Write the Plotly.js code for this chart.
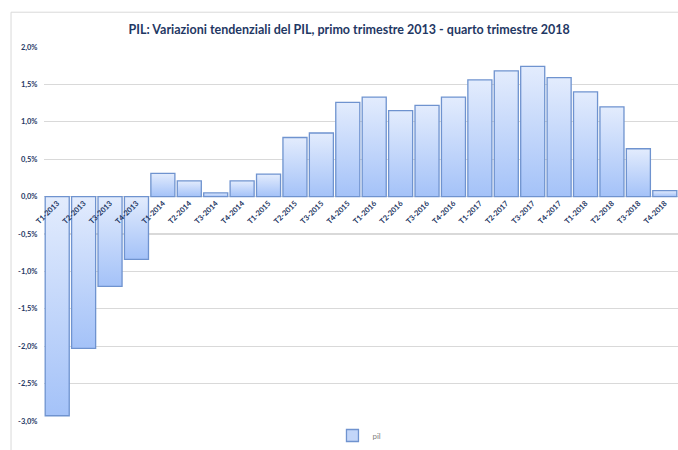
<!DOCTYPE html>
<html>
<head>
<meta charset="utf-8">
<script src="https://cdn.plot.ly/plotly-3.0.1.min.js"></script>
<style>html,body{margin:0;padding:0;background:#fff;}#chart{width:678px;height:450px;}</style>
</head>
<body>
<div id="chart"></div>
<script>
const categories = ["T1-2013","T2-2013","T3-2013","T4-2013","T1-2014","T2-2014","T3-2014","T4-2014",
  "T1-2015","T2-2015","T3-2015","T4-2015","T1-2016","T2-2016","T3-2016","T4-2016",
  "T1-2017","T2-2017","T3-2017","T4-2017","T1-2018","T2-2018","T3-2018","T4-2018"];
const pil = [-2.93,-2.03,-1.20,-0.84,0.31,0.21,0.05,0.21,
  0.30,0.79,0.85,1.26,1.33,1.15,1.22,1.33,
  1.56,1.68,1.74,1.59,1.40,1.20,0.64,0.08];
const yTicks = [-3,-2.5,-2,-1.5,-1,-0.5,0,0.5,1,1.5,2];
const yTickLabels = ["-3,0%","-2,5%","-2,0%","-1,5%","-1,0%","-0,5%","0,0%","0,5%","1,0%","1,5%","2,0%"];

const navy = '#1f3864';
const trace = {
  type: 'bar', x: categories, y: pil, name: 'pil',
  marker: {color: '#c3d6f9', line: {color: '#6f93cf', width: 1.3}},
  hoverinfo: 'x+y'
};
const layout = {
  width: 678, height: 450,
  margin: {l: 44, r: 0, t: 47, b: 24},
  paper_bgcolor: '#fff', plot_bgcolor: '#fff',
  bargap: 0.09,
  font: {family: 'Lato, "Open Sans", sans-serif', color: navy},
  title: {text: '<b>PIL: Variazioni tendenziali del PIL, primo trimestre 2013 - quarto trimestre 2018</b>',
    font: {size: 12.5, color: navy, family: 'Lato, sans-serif'}, x: 0.515, xanchor: 'center', y: 0.935, yanchor: 'middle'},
  xaxis: {type: 'category', anchor: 'free', position: 0.6, tickangle: -45,
    tickmode: 'array', tickvals: categories, ticktext: categories.map(function(c){ return '<b>' + c + '</b>'; }),
    tickfont: {size: 7.5, color: navy, family: 'Lato, sans-serif'},
    showline: false, ticks: '', showgrid: false, zeroline: false, fixedrange: true,
    range: [-0.5, 23.5]},
  yaxis: {range: [-3, 2], tickmode: 'array', tickvals: yTicks,
    ticktext: yTickLabels.map(function(t){ return '<b>' + t + '</b>'; }),
    tickfont: {size: 7.5, color: navy, family: 'Lato, sans-serif'},
    gridcolor: '#d9d9d9', gridwidth: 1.3, zeroline: true, zerolinecolor: '#d9d9d9', zerolinewidth: 1.3,
    showline: false, ticks: 'outside', ticklen: 4, tickcolor: 'rgba(0,0,0,0)', fixedrange: true},
  showlegend: true,
  legend: {orientation: 'h', x: 0.455, xanchor: 'left', y: -0.04, yanchor: 'middle',
    font: {size: 8, color: '#7f7f7f', family: 'Lato, sans-serif'}, itemwidth: 30},
  shapes: [
    {type: 'line', xref: 'paper', yref: 'paper', x0: -0.052, x1: -0.052, y0: -0.2, y1: 1.093,
      line: {color: '#d9d9d9', width: 1}},
    {type: 'line', xref: 'paper', yref: 'paper', x0: -0.052, x1: 1.05, y0: 1.093, y1: 1.093,
      line: {color: '#d9d9d9', width: 1}}
  ]
};
Plotly.newPlot('chart', [trace], layout, {displayModeBar: false, staticPlot: true}).then(function(gd){
  const svg = gd.querySelector('svg.main-svg');
  const ns = 'http://www.w3.org/2000/svg';
  let defs = svg.querySelector('defs');
  if (!defs) { defs = document.createElementNS(ns, 'defs'); svg.insertBefore(defs, svg.firstChild); }
  const g = document.createElementNS(ns, 'linearGradient');
  g.setAttribute('id', 'barGrad'); g.setAttribute('x1', '0'); g.setAttribute('y1', '0');
  g.setAttribute('x2', '0'); g.setAttribute('y2', '1');
  [['0', '#e3ecfd'], ['1', '#a4c2f8']].forEach(function(s){
    const st = document.createElementNS(ns, 'stop');
    st.setAttribute('offset', s[0]); st.setAttribute('stop-color', s[1]); g.appendChild(st);
  });
  defs.appendChild(g);
  gd.querySelectorAll('.bars .point path').forEach(function(p){ p.style.fill = 'url(#barGrad)'; });
});
</script>
</body>
</html>
